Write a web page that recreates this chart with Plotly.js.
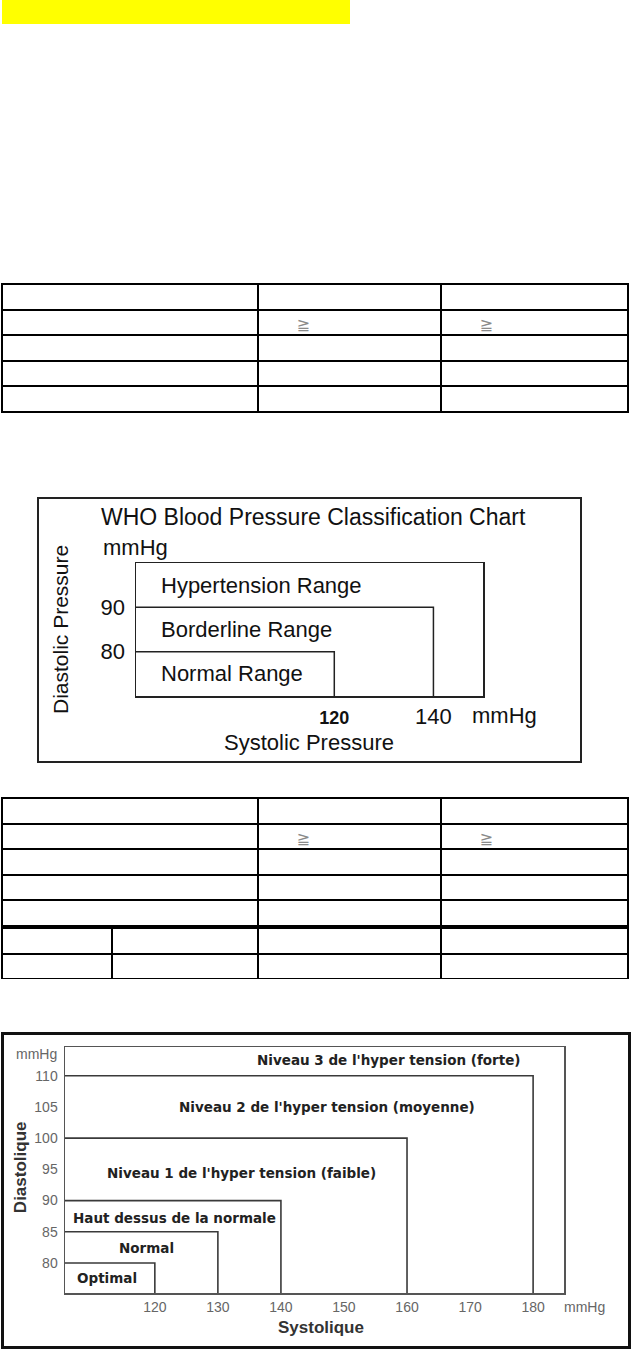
<!DOCTYPE html>
<html>
<head>
<meta charset="utf-8">
<script src="https://cdn.plot.ly/plotly-3.0.1.min.js"></script>
<style>
  html, body { margin: 0; padding: 0; background: #fff; }
  body { width: 631px; height: 1350px; position: relative; overflow: hidden; }
  .abs { position: absolute; }
  #highlight { left: 2px; top: 0px; width: 348px; height: 24px; background: #ffff00; }
  #who-box { left: 37px; top: 497px; width: 545px; height: 266px; border: 2px solid #222; box-sizing: border-box; }
  #fr-box { left: 1px; top: 1032px; width: 630px; height: 317px; border: 3px solid #111; box-sizing: border-box; }
</style>
</head>
<body>
<div id="highlight" class="abs"></div>
<div id="table1" class="abs" style="left:0px;top:282px;width:631px;height:134px;"></div>
<div id="who-box" class="abs"><div id="who" style="width:541px;height:262px;"></div></div>
<div id="table2" class="abs" style="left:0px;top:796px;width:631px;height:186px;"></div>
<div id="fr-box" class="abs"><div id="fr" style="width:624px;height:311px;"></div></div>
<script>
// ---------------- DATA ----------------
// Table 1 (cells are blank in the source except the "≧" signs)
const table1Rows = [
  ['', '', ''],
  ['', '≧', '≧'],
  ['', '', ''],
  ['', '', ''],
  ['', '', '']
];
// Table 2, upper part (3 columns) and lower part (first column split in two)
const table2TopRows = [
  ['', '', ''],
  ['', '≧', '≧'],
  ['', '', ''],
  ['', '', ''],
  ['', '', '']
];
const table2BottomRows = [
  ['', '', '', ''],
  ['', '', '', '']
];

// WHO chart
const whoSystolic = [120, 140];
const whoDiastolic = [80, 90];
const whoLabels = ['Normal Range', 'Borderline Range', 'Hypertension Range'];
const whoLabelLevels = [75, 85, 95];
const whoXTicks = [120, 140];
const whoYTicks = [80, 90];

// French chart
const frSystolic = [120, 130, 140, 160, 180];
const frDiastolic = [80, 85, 90, 100, 110];
const frLabels = ['Optimal', 'Normal', 'Haut dessus de la normale',
  "Niveau 1 de l'hyper tension (faible)",
  "Niveau 2 de l'hyper tension (moyenne)",
  "Niveau 3 de l'hyper tension (forte)"];
const frXTicks = [120, 130, 140, 150, 160, 170, 180];
const frYTicks = [80, 85, 90, 95, 100, 105, 110];

// ---------------- HELPERS ----------------
const config = {staticPlot: true, displayModeBar: false};
const pad = v => v ? '\u00a0'.repeat(6) + v : '';
function toColumns(rows) {
  return rows[0].map((_, c) => rows.map(r => pad(r[c])));
}
function tableTrace(rows, widths, domainY) {
  const cols = toColumns(rows);
  const head = cols.map(c => c[0]);
  const body = cols.map(c => c.slice(1));
  const font = {family: 'DejaVu Sans', size: 16, color: '#8a8a8a'};
  return {
    type: 'table',
    domain: {x: [0, 1], y: domainY},
    columnwidth: widths,
    header: {values: head, height: 25.6, align: 'left',
      line: {color: '#000', width: 2}, fill: {color: '#fff'}, font: font},
    cells: {values: body, height: 25.6, align: 'left',
      line: {color: '#000', width: 2}, fill: {color: '#fff'}, font: font}
  };
}

// ---------------- TABLES ----------------
Plotly.newPlot('table1', [tableTrace(table1Rows, [256, 183, 187], [0, 1])], {
  width: 631, height: 134, margin: {l: 2, r: 3, t: 2, b: 2},
  paper_bgcolor: '#fff', showlegend: false
}, config);

Plotly.newPlot('table2', [
  tableTrace(table2TopRows, [256, 183, 187], [0.2857, 1]),
  tableTrace(table2BottomRows, [110, 146, 183, 187], [0, 0.2857])
], {
  width: 631, height: 186, margin: {l: 2, r: 3, t: 2, b: 2},
  paper_bgcolor: '#fff', showlegend: false
}, config);

// ---------------- WHO CHART ----------------
const whoX = [80, 150], whoY = [70, 100];
const whoTraces = whoSystolic.map((s, i) => ({
  type: 'scatter', mode: 'lines',
  x: [whoX[0], s, s], y: [whoDiastolic[i], whoDiastolic[i], whoY[0]],
  line: {color: '#222', width: 1.5}, hoverinfo: 'skip', cliponaxis: false
}));
const whoFont = {family: 'Liberation Sans, Arial, sans-serif', size: 22, color: '#111'};
const whoAnn = whoLabels.map((t, i) => ({
  x: 84.6, y: whoLabelLevels[i], xref: 'x', yref: 'y', text: t,
  showarrow: false, xanchor: 'left', yanchor: 'middle', font: whoFont
}));
whoAnn.push(
  {x: -0.101, y: 1.12, xref: 'paper', yref: 'paper', text: 'mmHg', showarrow: false,
   xanchor: 'left', yanchor: 'middle', font: whoFont},
  {x: 1.063, y: -0.15, xref: 'paper', yref: 'paper', text: 'mmHg', showarrow: false,
   xanchor: 'center', yanchor: 'middle', font: whoFont},
  {x: 0.4986, y: -0.35, xref: 'paper', yref: 'paper', text: 'Systolic Pressure', showarrow: false,
   xanchor: 'center', yanchor: 'middle', font: whoFont},
  {x: -0.219, y: 0.496, xref: 'paper', yref: 'paper', text: 'Diastolic Pressure', showarrow: false,
   textangle: -90, xanchor: 'center', yanchor: 'middle', font: {...whoFont, size: 21}}
);
Plotly.newPlot('who', whoTraces, {
  width: 541, height: 262, margin: {l: 97, r: 97, t: 64, b: 65},
  paper_bgcolor: '#fff', plot_bgcolor: '#fff', showlegend: false,
  title: {text: 'WHO Blood Pressure Classification Chart', x: 0.1146, xanchor: 'left',
    xref: 'container', y: 0.931, yanchor: 'middle', yref: 'container', font: {...whoFont, size: 23}},
  xaxis: {range: whoX, showgrid: false, zeroline: false, showline: true, mirror: true,
    linecolor: '#222', linewidth: 1.5, ticks: '', tickvals: whoXTicks,
    ticktext: whoXTicks.map((v, i) => i === 0 ? '<b><span style="font-size:18px">' + v + '</span></b>' : String(v)),
    tickfont: whoFont, ticklabelstandoff: 0, fixedrange: true},
  yaxis: {range: whoY, showgrid: false, zeroline: false, showline: true, mirror: true,
    linecolor: '#222', linewidth: 1.5, ticks: '', tickvals: whoYTicks,
    tickfont: whoFont, ticklabelstandoff: 5, fixedrange: true},
  annotations: whoAnn
}, config);

// ---------------- FRENCH CHART ----------------
const frX = [105.75, 184.9], frY = [75.2, 114.6];
const frTraces = frSystolic.map((s, i) => ({
  type: 'scatter', mode: 'lines',
  x: [frX[0], s, s], y: [frDiastolic[i], frDiastolic[i], frY[0]],
  line: {color: '#3a3a3a', width: 1.6}, hoverinfo: 'skip', cliponaxis: false
}));
const frLabelX = [112.4, 118.6, 123.05, 133.7, 147.3, 157.2];
const frLabelY = [77.6, 82.4, 87.2, 94.5, 105.0, 112.55];
const labFont = {family: 'DejaVu Sans, sans-serif', size: 13.5, color: '#222', weight: 'bold'};
const tickFont = {family: 'Liberation Sans, Arial, sans-serif', size: 14, color: '#666'};
const axFont = {family: 'Liberation Sans, Arial, sans-serif', size: 17, color: '#333', weight: 'bold'};
const frAnn = frLabels.map((t, i) => ({
  x: frLabelX[i], y: frLabelY[i], xref: 'x', yref: 'y', text: '<b>' + t + '</b>',
  showarrow: false, xanchor: 'center', yanchor: 'middle', font: labFont
}));
frAnn.push(
  {x: -0.058, y: 0.9715, xref: 'paper', yref: 'paper', text: 'mmHg', showarrow: false,
   xanchor: 'center', yanchor: 'middle', font: tickFont},
  {x: 1.042, y: -0.057, xref: 'paper', yref: 'paper', text: 'mmHg', showarrow: false,
   xanchor: 'center', yanchor: 'middle', font: tickFont},
  {x: 0.513, y: -0.14, xref: 'paper', yref: 'paper', text: '<b>Systolique</b>', showarrow: false,
   xanchor: 'center', yanchor: 'middle', font: axFont},
  {x: -0.090, y: 0.512, xref: 'paper', yref: 'paper', text: '<b>Diastolique</b>', showarrow: false,
   textangle: -90, xanchor: 'center', yanchor: 'middle', font: {...axFont, size: 17}}
);
Plotly.newPlot('fr', frTraces, {
  width: 624, height: 311, margin: {l: 61, r: 64, t: 12, b: 53},
  paper_bgcolor: '#fff', plot_bgcolor: '#fff', showlegend: false,
  xaxis: {range: frX, showgrid: false, zeroline: false, showline: true, mirror: true,
    linecolor: '#555', linewidth: 1.5, ticks: '', tickvals: frXTicks,
    tickfont: tickFont, ticklabelstandoff: 1, fixedrange: true},
  yaxis: {range: frY, showgrid: false, zeroline: false, showline: true, mirror: true,
    linecolor: '#555', linewidth: 1.5, ticks: '', tickvals: frYTicks,
    tickfont: tickFont, ticklabelstandoff: 3, fixedrange: true},
  annotations: frAnn
}, config);
</script>
</body>
</html>
